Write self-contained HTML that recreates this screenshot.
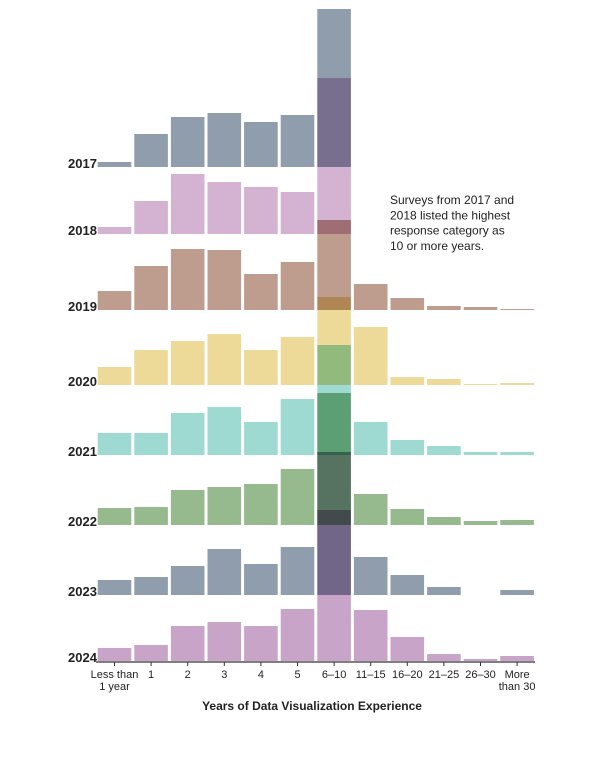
<!DOCTYPE html>
<html><head><meta charset="utf-8"><style>
body{margin:0;background:#fff;font-family:"Liberation Sans",sans-serif}
svg text{font-family:"Liberation Sans",sans-serif}
</style></head><body>
<svg id="chart" width="610" height="763" viewBox="0 0 610 763"></svg>
<script>
const categories=["Less than|1 year","1","2","3","4","5","6–10","11–15","16–20","21–25","26–30","More|than 30"];
const years=["2017","2018","2019","2020","2021","2022","2023","2024"];
const colors=["#8a98a8","#d2aecf","#bb9888","#edd892","#99d8d0","#90b788","#8a98a8","#c59fc6"];
const v2017=[1.25,8.25,12.5,13.5,11.25,13,39.5,null,null,null,null,null];
const v2018=[1.75,8.25,15,13,11.75,10.5,39,null,null,null,null,null];
const v2019=[4.75,11,15.25,15,9,12,22.5,6.5,3,1,0.75,0.25];
const v2020=[4.5,8.75,11,12.75,8.75,12,22,14.5,2,1.5,0.25,0.5];
const v2021=[5.5,5.5,10.5,12,8.25,14,27.5,8.25,3.75,2.25,0.75,0.75];
const v2022=[4.25,4.5,8.75,9.5,10.25,14,33,7.75,4,2,1,1.25];
const v2023=[3.75,4.5,7.25,11.5,7.75,12,35.75,9.5,5,2,0,1.25];
const v2024=[3.25,4,8.75,9.75,8.75,13,37.75,12.75,6,1.75,0.5,1.25];
const series=[v2017,v2018,v2019,v2020,v2021,v2022,v2023,v2024];
const rowBase=[167,234,310,385,455,525,595,661];
const NS="http://www.w3.org/2000/svg";
const svg=document.getElementById('chart');
const x0=97,step=36.6,bw=35;
const xScale=i=>x0+i*step;
const yScale=v=>v*4;
function mk(t,a){const e=document.createElementNS(NS,t);for(const k in a)e.setAttribute(k,a[k]);svg.appendChild(e);return e;}
series.forEach((vals,r)=>{
  vals.forEach((v,i)=>{
    if(v===null||v<=0)return;
    const h=yScale(v);
    const rc=mk('rect',{x:xScale(i)+0.7,y:rowBase[r]-h,width:bw-1.4,height:h,fill:colors[r],style:'mix-blend-mode:multiply',opacity:0.95});
    
    
  });
});
years.forEach((y,r)=>{
  const t=mk('text',{x:68,y:rowBase[r]+1,'font-size':13,'font-weight':'bold',fill:'#222'});
  t.textContent=y;
  
  
});
const ax=mk('line',{x1:96,x2:535,y1:662,y2:662,stroke:'#333','stroke-width':1.2});


categories.forEach((c,i)=>{
  const cx=xScale(i)+bw/2;
  const tk=mk('line',{x1:cx,x2:cx,y1:662,y2:666,stroke:'#333'});
  
  
  c.split('|').forEach((ln,j)=>{
    const t=mk('text',{x:cx,y:678+j*12,'font-size':11,'text-anchor':'middle',fill:'#222'});
    t.textContent=ln;
    
    
  });
});
const ti=mk('text',{x:312,y:710,'font-size':12,'font-weight':'bold','text-anchor':'middle',fill:'#222'});
ti.textContent="Years of Data Visualization Experience";


["Surveys from 2017 and","2018 listed the highest","response category as","10 or more years."].forEach((ln,j)=>{
  const t=mk('text',{x:390,y:204+j*15.3,'font-size':12,fill:'#222'});
  t.textContent=ln;
  
  
});
</script>
</body></html>
